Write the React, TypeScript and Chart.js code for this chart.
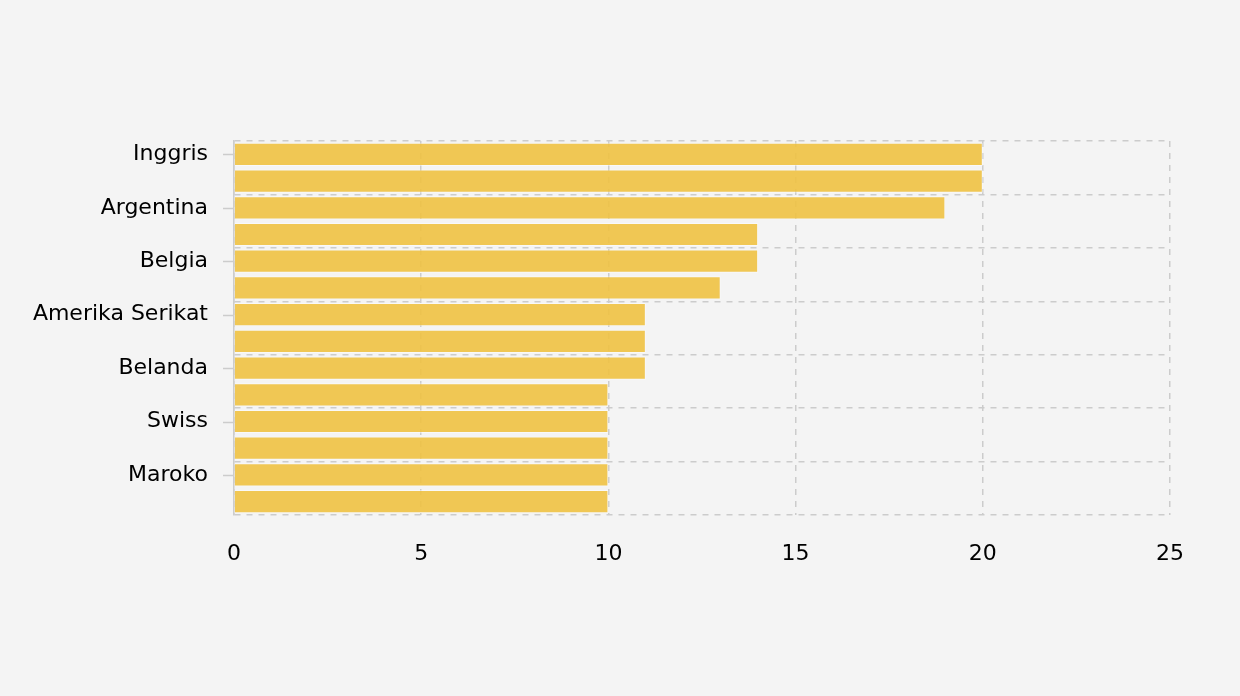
import React, { useEffect, useRef } from "react";
import { Chart, registerables } from "chart.js";

Chart.register(...registerables);

// Category names (odd rows carry no visible label in the reference)
const categories: string[] = [
  "Inggris", "", "Argentina", "", "Belgia", "", "Amerika Serikat",
  "", "Belanda", "", "Swiss", "", "Maroko", "",
];
const values: number[] = [20, 20, 19, 14, 14, 13, 11, 11, 11, 10, 10, 10, 10, 10];
const xTickMin = 0;
const xTickMax = 25;
const xTickStep = 5;

const FONT = "'DejaVu Sans', Verdana, sans-serif";
const GRID = "#cccccc";

const tickMarks = {
  id: "tickMarks",
  afterDraw(chart: any) {
    const y = chart.scales.y;
    const ctx = chart.ctx;
    const left = chart.chartArea.left;
    ctx.save();
    ctx.strokeStyle = GRID;
    ctx.lineWidth = 1.5;
    categories.forEach((c, i) => {
      if (i % 2 !== 0) return;
      const py = Math.round(y.getPixelForValue(i)) + 0.5;
      ctx.beginPath();
      ctx.moveTo(left - 11, py);
      ctx.lineTo(left - 1, py);
      ctx.stroke();
    });
    ctx.restore();
  },
};

export default function App() {
  const ref = useRef<HTMLCanvasElement>(null);
  useEffect(() => {
    const chart = new Chart(ref.current!, {
      type: "bar",
      data: {
        labels: categories,
        datasets: [
          {
            data: values,
            backgroundColor: "rgba(240,194,67,0.9)",
            borderColor: "rgba(255,255,255,0.45)",
            borderWidth: 1,
            barPercentage: 0.87,
            categoryPercentage: 1,
          },
        ],
      },
      options: {
        indexAxis: "y",
        responsive: false,
        animation: false,
        layout: { padding: { top: 141, right: 70, bottom: 0, left: 0 } },
        plugins: { legend: { display: false }, tooltip: { enabled: false } },
        scales: {
          x: {
            min: xTickMin,
            max: xTickMax,
            afterFit: (s: any) => { s.height = 181; },
            ticks: {
              stepSize: xTickStep,
              color: "#000",
              padding: 26,
              font: { family: FONT, size: 22 },
              maxRotation: 0,
            },
            grid: { color: GRID, lineWidth: 1.5, drawTicks: false },
            border: { display: false, dash: [6, 6] },
          },
          y: {
            afterFit: (s: any) => { s.width = 234; },
            ticks: {
              autoSkip: false,
              color: "#000",
              padding: 26,
              font: { family: FONT, size: 22 },
            },
            grid: {
              offset: true,
              drawTicks: false,
              lineWidth: 1.5,
              color: (ctx: any) =>
                ctx.index === undefined || ctx.index % 2 === 0 ? GRID : "rgba(0,0,0,0)",
            },
            border: { display: true, color: GRID, width: 1.5, dash: [6, 6] },
          },
        },
      },
      plugins: [tickMarks],
    });
    return () => chart.destroy();
  }, []);
  return (
    <div style={{ position: "fixed", left: 0, top: 0, width: 1240, height: 696, background: "#f4f4f4" }}>
      <canvas ref={ref} width={1240} height={696} style={{ display: "block" }} />
    </div>
  );
}
